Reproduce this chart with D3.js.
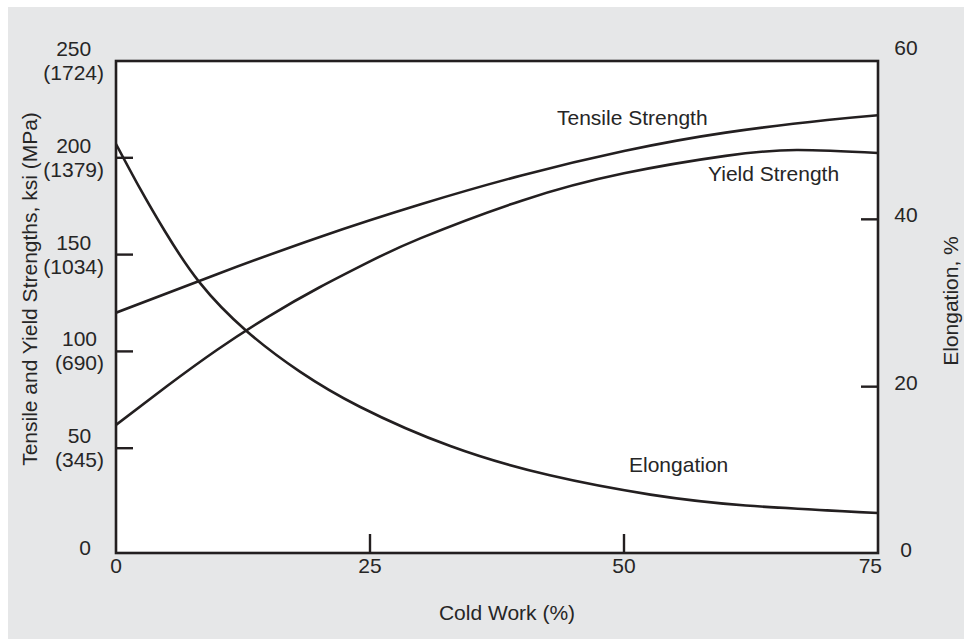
<!DOCTYPE html>
<html>
<head>
<meta charset="utf-8">
<script src="https://cdn.jsdelivr.net/npm/d3@7"></script>
<style>
  html, body { margin: 0; padding: 0; background: #ffffff; }
  svg text { font-family: "Liberation Sans", Arial, Helvetica, sans-serif; fill: #262626; }
</style>
</head>
<body>
<svg id="chart" width="964" height="639"></svg>
<script>
// ---- data ----
const tensileX = [0, 10, 20, 30, 40, 50, 60, 70, 75];
const tensileKsi = [120, 140, 159, 176, 191, 203.5, 213, 219.5, 222];

const yieldX = [0, 5, 10, 15, 20, 25, 30, 40, 50, 60, 67, 75];
const yieldKsi = [62, 82, 101, 118, 133, 146.5, 158.5, 178, 192, 201, 204, 202.5];

const elongX = [0, 2.4, 4.8, 8.2, 12.9, 18.1, 24.0, 32.9, 42.7, 52.6, 62.0, 75];
const elongPct = [49, 43.6, 38.6, 32.5, 26.6, 21.8, 17.6, 12.9, 9.4, 7.1, 5.8, 4.9];

const xTicks = [0, 25, 50, 75];
const leftTicks = [0, 50, 100, 150, 200, 250];
const leftTickMPa = ["", "(345)", "(690)", "(1034)", "(1379)", "(1724)"];
const rightTicks = [0, 20, 40, 60];

const seriesLabels = ["Tensile Strength", "Yield Strength", "Elongation"];
const xTitle = "Cold Work (%)";
const yLeftTitle = "Tensile and Yield Strengths, ksi (MPa)";
const yRightTitle = "Elongation, %";

// ---- layout ----
const svg = d3.select("#chart");
const W = 964, H = 639;
const ink = "#231f20";

svg.append("rect").attr("x", 8).attr("y", 7).attr("width", W - 8).attr("height", H - 7).attr("fill", "#e6e7e8");

const plot = { left: 116, right: 878, top: 61, bottom: 553 };

const x = d3.scaleLinear().domain([0, 75]).range([plot.left, plot.right]);
const yL = d3.scaleLinear().domain([0, 250]).range([545, plot.top]);
const yR = d3.scaleLinear().domain([0, 60]).range([554, 52]);

svg.append("rect")
  .attr("x", plot.left).attr("y", plot.top)
  .attr("width", plot.right - plot.left).attr("height", plot.bottom - plot.top)
  .attr("fill", "#ffffff");

// curves
svg.append("clipPath").attr("id", "clip").append("rect")
  .attr("x", plot.left).attr("y", plot.top)
  .attr("width", plot.right - plot.left).attr("height", plot.bottom - plot.top);

const g = svg.append("g").attr("clip-path", "url(#clip)");
const curve = d3.curveNatural;

function drawLine(xs, ys, yScale) {
  const pts = xs.map((v, i) => [v, ys[i]]);
  g.append("path")
    .attr("d", d3.line().x(d => x(d[0])).y(d => yScale(d[1])).curve(curve)(pts))
    .attr("fill", "none").attr("stroke", ink).attr("stroke-width", 2.6)
    .attr("stroke-linejoin", "round").attr("stroke-linecap", "round");
}
drawLine(tensileX, tensileKsi, yL);
drawLine(yieldX, yieldKsi, yL);
drawLine(elongX, elongPct, yR);

// ticks (inward)
const tickLen = 17;
leftTicks.filter(t => t > 0 && t < 250).forEach(t => {
  svg.append("line").attr("x1", plot.left).attr("x2", plot.left + tickLen)
    .attr("y1", yL(t)).attr("y2", yL(t)).attr("stroke", ink).attr("stroke-width", 2.4);
});
rightTicks.filter(t => t > 0 && t < 60).forEach(t => {
  svg.append("line").attr("x1", plot.right - tickLen).attr("x2", plot.right)
    .attr("y1", yR(t)).attr("y2", yR(t)).attr("stroke", ink).attr("stroke-width", 2.4);
});
xTicks.filter(t => t > 0 && t < 75).forEach(t => {
  svg.append("line").attr("x1", x(t)).attr("x2", x(t))
    .attr("y1", plot.bottom).attr("y2", plot.bottom - 19).attr("stroke", ink).attr("stroke-width", 2.4);
});

// frame
svg.append("rect")
  .attr("x", plot.left).attr("y", plot.top)
  .attr("width", plot.right - plot.left).attr("height", plot.bottom - plot.top)
  .attr("fill", "none").attr("stroke", ink).attr("stroke-width", 2.6);

// left tick labels
const fs = 21;
leftTicks.forEach((t, i) => {
  if (t === 0) {
    svg.append("text").attr("x", 91).attr("y", plot.bottom + 2)
      .attr("text-anchor", "end").attr("font-size", fs).text(String(t));
    return;
  }
  const paren = svg.append("text").attr("x", 104).attr("y", yL(t) + 19)
    .attr("text-anchor", "end").attr("font-size", fs).text(leftTickMPa[i]);
  const bb = paren.node().getBBox();
  svg.append("text").attr("x", bb.x + bb.width / 2).attr("y", yL(t) - 5)
    .attr("text-anchor", "middle").attr("font-size", fs).text(String(t));
});

// right tick labels
rightTicks.forEach(t => {
  svg.append("text").attr("x", 906).attr("y", yR(t) + 3)
    .attr("text-anchor", "middle").attr("font-size", fs).text(String(t));
});

// bottom tick labels
xTicks.forEach((t, i) => {
  const last = i === xTicks.length - 1;
  svg.append("text").attr("x", last ? x(t) + 4 : x(t)).attr("y", 573)
    .attr("text-anchor", last ? "end" : "middle").attr("font-size", fs).text(String(t));
});

// axis titles
svg.append("text").attr("x", 507).attr("y", 620).attr("text-anchor", "middle")
  .attr("font-size", fs).text(xTitle);
svg.append("text").attr("transform", "translate(37,289) rotate(-90)")
  .attr("text-anchor", "middle").attr("font-size", fs).text(yLeftTitle);
svg.append("text").attr("transform", "translate(958,301) rotate(-90)")
  .attr("text-anchor", "middle").attr("font-size", fs).text(yRightTitle);

// series labels
svg.append("text").attr("x", 557).attr("y", 125).attr("font-size", fs).text(seriesLabels[0]);
svg.append("text").attr("x", 708).attr("y", 181).attr("font-size", fs).text(seriesLabels[1]);
svg.append("text").attr("x", 629).attr("y", 472).attr("font-size", fs).text(seriesLabels[2]);
</script>
</body>
</html>
